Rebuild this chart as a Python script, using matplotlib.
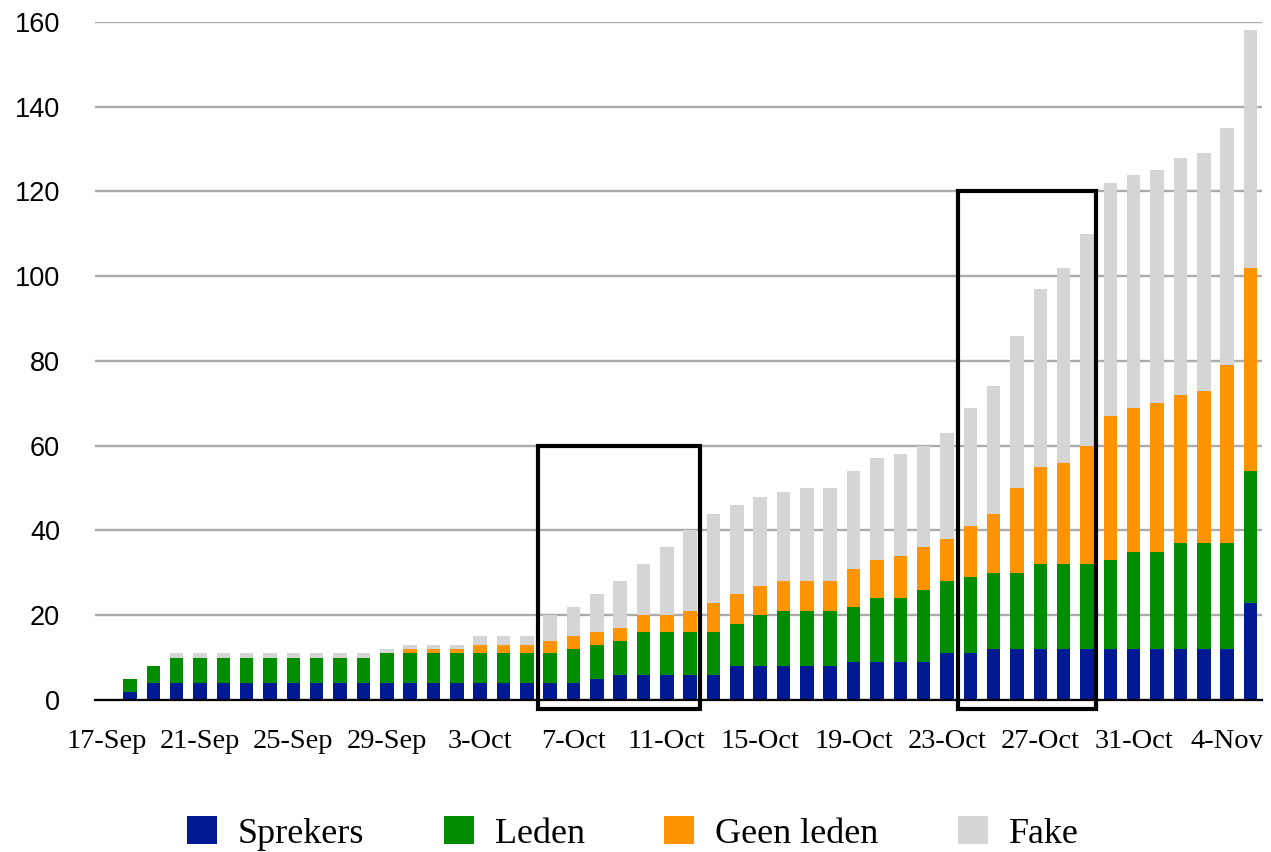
import matplotlib
matplotlib.use("Agg")
import matplotlib.pyplot as plt
from matplotlib.patches import Patch, Rectangle
import numpy as np

# ------------------------ DATA ------------------------
dates = [
    "17-Sep", "18-Sep", "19-Sep", "20-Sep", "21-Sep", "22-Sep", "23-Sep", "24-Sep",
    "25-Sep", "26-Sep", "27-Sep", "28-Sep", "29-Sep", "30-Sep", "1-Oct", "2-Oct",
    "3-Oct", "4-Oct", "5-Oct", "6-Oct", "7-Oct", "8-Oct", "9-Oct", "10-Oct",
    "11-Oct", "12-Oct", "13-Oct", "14-Oct", "15-Oct", "16-Oct", "17-Oct", "18-Oct",
    "19-Oct", "20-Oct", "21-Oct", "22-Oct", "23-Oct", "24-Oct", "25-Oct", "26-Oct",
    "27-Oct", "28-Oct", "29-Oct", "30-Oct", "31-Oct", "1-Nov", "2-Nov", "3-Nov",
    "4-Nov", "5-Nov",
]
sprekers = [0, 2, 4, 4, 4, 4, 4, 4, 4, 4, 4, 4, 4, 4, 4, 4,
            4, 4, 4, 4, 4, 5, 6, 6, 6, 6, 6, 8, 8, 8, 8, 8,
            9, 9, 9, 9, 11, 11, 12, 12, 12, 12, 12, 12, 12, 12, 12, 12,
            12, 23]
leden = [0, 3, 4, 6, 6, 6, 6, 6, 6, 6, 6, 6, 7, 7, 7, 7,
         7, 7, 7, 7, 8, 8, 8, 10, 10, 10, 10, 10, 12, 13, 13, 13,
         13, 15, 15, 17, 17, 18, 18, 18, 20, 20, 20, 21, 23, 23, 25, 25,
         25, 31]
geen_leden = [0, 0, 0, 0, 0, 0, 0, 0, 0, 0, 0, 0, 0, 1, 1, 1,
              2, 2, 2, 3, 3, 3, 3, 4, 4, 5, 7, 7, 7, 7, 7, 7,
              9, 9, 10, 10, 10, 12, 14, 20, 23, 24, 28, 34, 34, 35, 35, 36,
              42, 48]
fake = [0, 0, 0, 1, 1, 1, 1, 1, 1, 1, 1, 1, 1, 1, 1, 1,
        2, 2, 2, 6, 7, 9, 11, 12, 16, 19, 21, 21, 21, 21, 22, 22,
        23, 24, 24, 24, 25, 28, 30, 36, 42, 46, 50, 55, 55, 55, 56, 56,
        56, 56]

series_names = ["Sprekers", "Leden", "Geen leden", "Fake"]
colors = ["#001A93", "#008E00", "#FF9300", "#D5D5D5"]

# highlighted periods (first / last date inside the box, box top)
highlights = [("6-Oct", "12-Oct", 60), ("24-Oct", "29-Oct", 120)]

# ------------------------ PLOT ------------------------
fig = plt.figure(figsize=(12.71, 8.52), dpi=100)
ax = fig.add_axes([0.0747, 0.1784, 0.9183, 0.7958])

x = np.arange(len(dates))
bottom = np.zeros(len(dates))
for name, vals, col in zip(series_names, [sprekers, leden, geen_leden, fake], colors):
    vals = np.array(vals)
    ax.bar(x, vals, 0.58, bottom=bottom, color=col, label=name, zorder=2)
    bottom += vals

for start, end, top in highlights:
    i0 = dates.index(start) - 0.52
    i1 = dates.index(end) + 0.4
    ax.add_patch(Rectangle((i0, -2.1), i1 - i0, top + 2.1, fill=False,
                           edgecolor="black", lw=3, clip_on=False, zorder=4))

ax.set_xlim(-0.5, len(dates) - 0.5)
ax.set_ylim(0, 160)
ax.set_yticks(range(0, 161, 20))
ax.set_xticks(x[::4])
ax.set_xticklabels(dates[::4], family="Liberation Serif", fontsize=20.5)
for lbl in ax.get_yticklabels():
    lbl.set_family("Liberation Sans")
    lbl.set_fontsize(19.5)

ax.yaxis.grid(True, color="#ABABAB", lw=1.7, zorder=0)
ax.set_axisbelow(True)
for s in ["top", "right", "left"]:
    ax.spines[s].set_visible(False)
ax.spines["bottom"].set_color("black")
ax.spines["bottom"].set_linewidth(1.6)
ax.spines["bottom"].set_zorder(3)
ax.tick_params(axis="x", length=0, pad=21)
ax.tick_params(axis="y", length=0, pad=25)

handles = [Patch(facecolor=c, edgecolor="none") for c in colors]
fig.legend(handles, series_names, loc="center", bbox_to_anchor=(0.498, 0.022),
           ncol=4, frameon=False, prop={"family": "Liberation Serif", "size": 26},
           handlelength=0.83, handleheight=0.83, handletextpad=0.58,
           columnspacing=2.2, borderpad=0, borderaxespad=0)

fig.savefig("out.png", dpi=100)
